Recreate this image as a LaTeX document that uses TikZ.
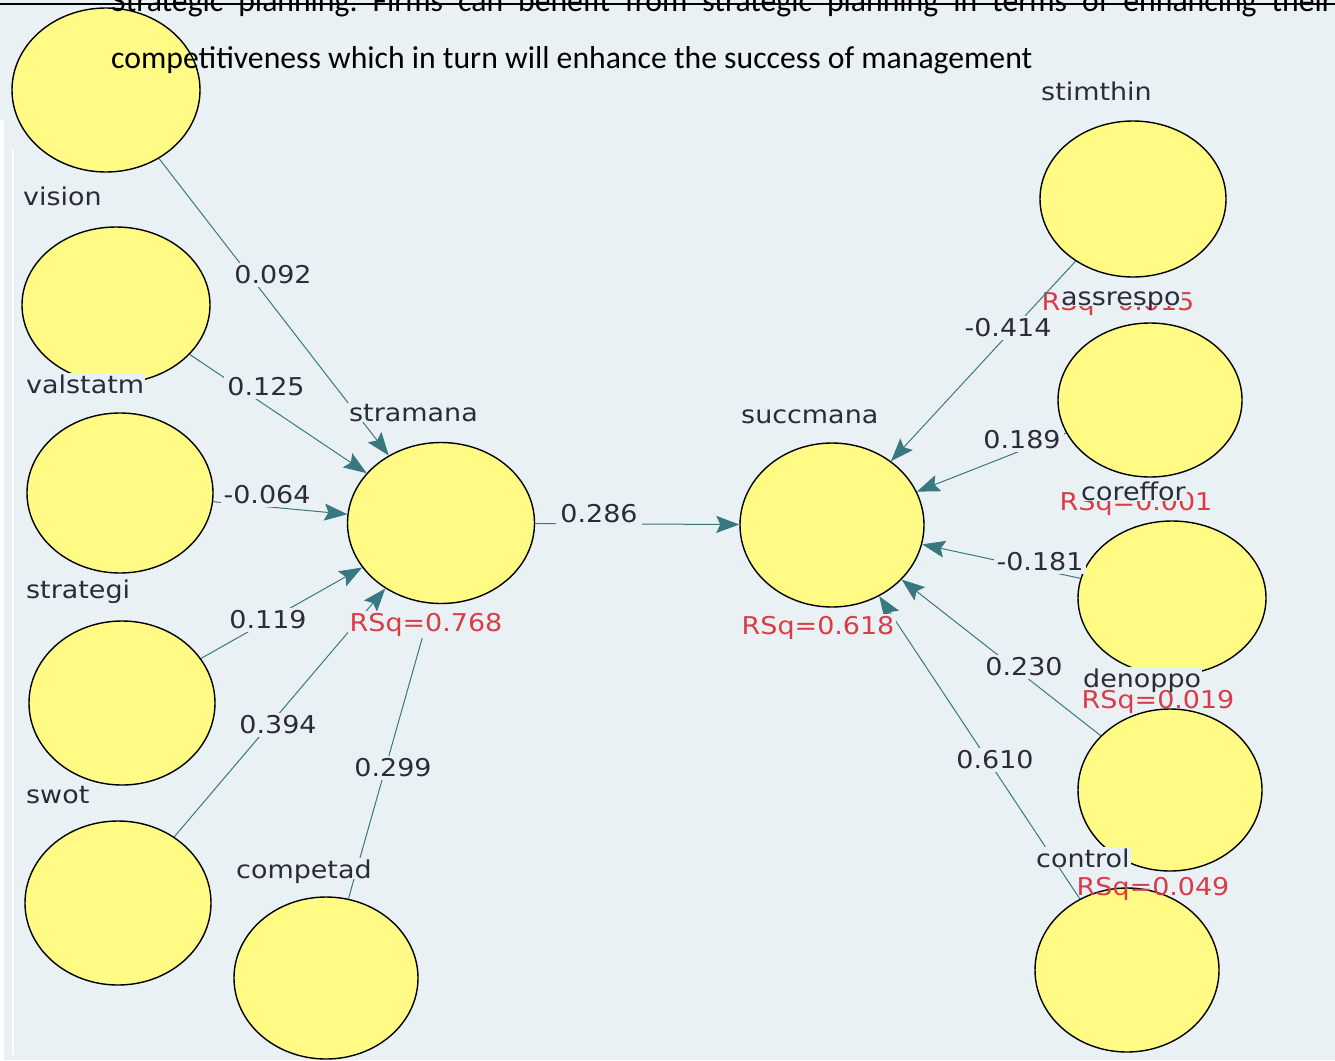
\documentclass[tikz,border=0pt]{standalone}
\usepackage{fontspec}
\setmainfont{Carlito}
\newfontfamily\lblfont[FakeStretch=1.1]{DejaVu Sans}
\usetikzlibrary{arrows.meta,shapes.geometric}
\definecolor{bgc}{HTML}{EAF1F4}
\definecolor{circfill}{HTML}{FFFB84}
\definecolor{edgec}{HTML}{3A7880}
\definecolor{rsqc}{HTML}{DA3C47}
\definecolor{lblc}{HTML}{2B2B3A}
\frenchspacing
\begin{document}
\begin{tikzpicture}[x=1pt,y=-1pt,
  lv/.style={ellipse,draw=black,line width=1.4pt,fill=circfill,inner sep=0pt},
  conn/.style={draw=edgec,line width=1pt,-{Stealth[length=23pt,width=17pt,inset=4pt]}},
  num/.style={font=\lblfont\fontsize{24.5}{26}\selectfont,text=lblc,fill=bgc,inner sep=3pt},
  nm/.style={font=\lblfont\fontsize{24.5}{26}\selectfont,text=lblc,fill=bgc,inner sep=1pt,text depth=0pt,anchor=base west},
  rsq/.style={font=\lblfont\fontsize{24.5}{26}\selectfont,text=rsqc,inner sep=1.5pt,anchor=base west},
  toptext/.style={font=\fontsize{31.7}{38}\selectfont,text=black,inner sep=0pt,anchor=base west}
]
\useasboundingbox (0,0) rectangle (1335,1060);
\clip (0,0) rectangle (1335,1060);
\fill[bgc] (0,0) rectangle (1335,1060);
\fill[white] (0,120) rectangle (4,1060);
\draw[white,line width=1.5pt] (13,150) -- (13,1055);

% latent variables
\node[lv,minimum width=188pt,minimum height=164pt] (lv1) at (106,90) {};
\node[lv,minimum width=188pt,minimum height=156pt] (vision) at (116,305) {};
\node[lv,minimum width=186pt,minimum height=160pt] (valstatm) at (120,493) {};
\node[lv,minimum width=186pt,minimum height=164pt] (strategi) at (122,703) {};
\node[lv,minimum width=186pt,minimum height=164pt] (swot) at (118,903) {};
\node[lv,minimum width=184pt,minimum height=162pt] (competad) at (326,978) {};
\node[lv,minimum width=187pt,minimum height=161pt] (stramana) at (441,523) {};
\node[lv,minimum width=184pt,minimum height=164pt] (succmana) at (832,525) {};
\node[lv,minimum width=186pt,minimum height=156pt] (stimthin) at (1133,199) {};
\node[lv,minimum width=184pt,minimum height=154pt] (assrespo) at (1150,400) {};
\node[lv,minimum width=188pt,minimum height=154pt] (coreffor) at (1172,598) {};
\node[lv,minimum width=184pt,minimum height=162pt] (denoppo) at (1170,790) {};
\node[lv,minimum width=184pt,minimum height=164pt] (control) at (1127,970) {};

% R-square labels
\node[rsq,fill=bgc] (r1) at (348,631) {RSq=0.768};
\node[rsq,fill=bgc] (r2) at (740,634) {RSq=0.618};
\node[rsq] (r3) at (1040,310) {RSq=0.015};
\node[rsq] (r4) at (1058,510) {RSq=0.001};
\node[rsq] (r5) at (1080,708) {RSq=0.019};
\node[rsq] (r6) at (1075,895) {RSq=0.049};

% paths
\draw[conn] (lv1) -- (stramana);
\draw[conn] (vision) -- (stramana);
\draw[conn] (valstatm) -- (stramana);
\draw[conn] (strategi) -- (stramana);
\draw[conn] (swot) -- (stramana);
\draw[conn,-] (competad) -- (r1);
\draw[conn] (stramana) -- (succmana);
\draw[conn] (stimthin) -- (succmana);
\draw[conn] (assrespo) -- (succmana);
\draw[conn] (coreffor) -- (succmana);
\draw[conn] (denoppo) -- (succmana);
\draw[conn] (control) -- (succmana);
\node[rsq,fill=bgc] at (r1.base west) {RSq=0.768};
\node[rsq,fill=bgc] at (r2.base west) {RSq=0.618};

% names
\node[nm] (n1) at (22,205) {vision};
\node[nm] (n2) at (25,393) {valstatm};
\node[nm] (n3) at (25,598) {strategi};
\node[nm] (n4) at (25,803) {swot};
\node[nm] (n5) at (235,878) {competad};
\node[nm] (n6) at (348,421) {stramana};
\node[nm] (n7) at (740,423) {succmana};
\node[nm] (n8) at (1040,100) {stimthin};
\node[nm] (n9) at (1060,305) {assrespo};
\node[nm] (n10) at (1080,500) {coreffor};
\node[nm] (n11) at (1082,687) {denoppo};
\node[nm] (n12) at (1035,867) {control};

% coefficients
\node[num] (c1) at (273,275) {0.092};
\node[num] (c2) at (266,387) {0.125};
\node[num] (c3) at (267,495) {-0.064};
\node[num] (c4) at (268,620) {0.119};
\node[num] (c5) at (278,725) {0.394};
\node[num] (c6) at (393,768) {0.299};
\node[num,inner sep=4pt] (c7) at (599,514) {0.286};
\node[num] (c8) at (1008,328) {-0.414};
\node[num] (c9) at (1022,440) {0.189};
\node[num] (c10) at (1040,562) {-0.181};
\node[num] (c11) at (1024,667) {0.230};
\node[num] (c12) at (995,760) {0.610};

% text above the figure
\node[toptext] (t1) at (111,11) {\makebox[1222pt][s]{Strategic planning. Firms can benefit from strategic planning in terms of enhancing their}};
\node[toptext] (t2) at (111,68) {competitiveness which in turn will enhance the success of management};
\draw[black,line width=2pt] (0,4) -- (1335,4);
\end{tikzpicture}
\end{document}
